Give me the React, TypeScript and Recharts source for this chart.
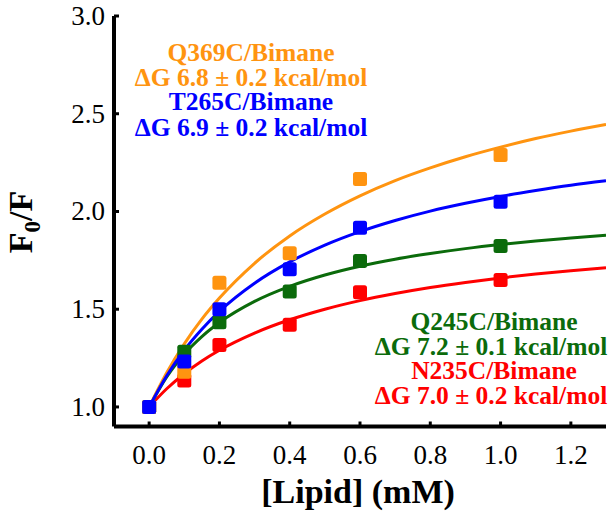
import React from "react";
import { ComposedChart, Line, Scatter, XAxis, YAxis } from "recharts";

const xTicks = [0, 0.2, 0.4, 0.6, 0.8, 1.0, 1.2];
const yTicks = [1.0, 1.5, 2.0, 2.5, 3.0];

const conc = [0, 0.1, 0.2, 0.4, 0.6, 1.0];
const q369Pts = [1.0, 1.18, 1.636, 1.786, 2.166, 2.289];
const t265Pts = [1.0, 1.232, 1.5, 1.704, 1.917, 2.05];
const q245Pts = [1.0, 1.283, 1.433, 1.59, 1.747, 1.824];
const n235Pts = [1.0, 1.135, 1.317, 1.42, 1.587, 1.65];

const fitX = [0, 0.05, 0.1, 0.15, 0.2, 0.3, 0.4, 0.5, 0.6, 0.7, 0.8, 0.9, 1.0, 1.1, 1.2, 1.3];
const q369Fit = [1.0, 1.175, 1.323, 1.449, 1.557, 1.735, 1.875, 1.987, 2.08, 2.158, 2.223, 2.28, 2.329, 2.373, 2.411, 2.445];
const t265Fit = [1.0, 1.16, 1.291, 1.398, 1.489, 1.633, 1.742, 1.828, 1.897, 1.954, 2.002, 2.042, 2.077, 2.107, 2.134, 2.157];
const q245Fit = [1.0, 1.154, 1.27, 1.36, 1.432, 1.54, 1.617, 1.675, 1.72, 1.756, 1.785, 1.81, 1.831, 1.849, 1.864, 1.878];
const n235Fit = [1.0, 1.093, 1.17, 1.235, 1.29, 1.378, 1.446, 1.5, 1.544, 1.58, 1.611, 1.637, 1.66, 1.68, 1.697, 1.712];

const ORANGE = "#FF9410";
const BLUE = "#0000FF";
const GREEN = "#0B6B0B";
const RED = "#FF0000";

const SERIF = "'Liberation Serif', 'Times New Roman', serif";

const toPts = (xs: number[], ys: number[]) => xs.map((x, i) => ({ x, y: ys[i] }));

const Square = (color: string) => (props: any) => {
  const { cx, cy } = props;
  if (cx == null || cy == null) return null;
  return <rect x={cx - 7} y={cy - 7} width={14} height={14} rx={2.5} fill={color} />;
};

const YTick = (props: any) => {
  const { x, y, payload } = props;
  return (
    <g>
      <line x1={x} x2={x + 5} y1={y} y2={y} stroke="#000" strokeWidth={3} />
      <text x={x - 9} y={y + 9} textAnchor="end" fontFamily={SERIF} fontSize={27} fill="#000">
        {Number(payload.value).toFixed(1)}
      </text>
    </g>
  );
};

const XTick = (props: any) => {
  const { x, y, payload } = props;
  return (
    <g>
      <line x1={x} x2={x} y1={y} y2={y - 5} stroke="#000" strokeWidth={3} />
      <text x={x} y={y + 37} textAnchor="middle" fontFamily={SERIF} fontSize={27} fill="#000">
        {Number(payload.value).toFixed(1)}
      </text>
    </g>
  );
};

const YLabel = (props: any) => {
  const cy = 222;
  const cx = 32;
  return (
    <text
      x={cx}
      y={cy}
      transform={`rotate(-90 ${cx} ${cy})`}
      textAnchor="middle"
      fontFamily={SERIF}
      fontWeight="bold"
      fontSize={34}
      fill="#000"
    >
      F<tspan fontSize={23} dy={8}>0</tspan><tspan dy={-8}>/F</tspan>
    </text>
  );
};

const XLabel = (props: any) => {
  const { viewBox } = props;
  const cx = viewBox.x + viewBox.width / 2 - 2;
  return (
    <text x={cx} y={503} textAnchor="middle" fontFamily={SERIF} fontWeight="bold" fontSize={34} fill="#000">
      [Lipid] (mM)
    </text>
  );
};

const annStyle = { fontFamily: SERIF, fontWeight: "bold" as const, fontSize: 25.5 };

export default function App() {
  return (
    <div style={{ position: "absolute", left: 0, top: 0, width: 616, height: 521, background: "#fff" }}>
      <ComposedChart width={616} height={521} margin={{ top: 16, right: 10, left: 0, bottom: 0 }}>
        <XAxis
          type="number"
          dataKey="x"
          domain={[-0.1, 1.3]}
          ticks={xTicks}
          allowDataOverflow
          height={94.5}
          tickSize={0}
          tickMargin={0}
          tick={<XTick />}
          axisLine={{ stroke: "#000", strokeWidth: 4 }}
          label={<XLabel />}
        />
        <YAxis
          type="number"
          dataKey="y"
          domain={[0.9, 3.0]}
          ticks={yTicks}
          allowDataOverflow
          width={114}
          tickSize={0}
          tickMargin={0}
          tick={<YTick />}
          axisLine={{ stroke: "#000", strokeWidth: 4 }}
          label={<YLabel />}
        />
        <Line data={toPts(fitX, n235Fit)} dataKey="y" type="monotone" stroke={RED} strokeWidth={3} dot={false} isAnimationActive={false} />
        <Scatter data={toPts(conc, n235Pts)} dataKey="y" fill={RED} shape={Square(RED)} isAnimationActive={false} />
        <Line data={toPts(fitX, q245Fit)} dataKey="y" type="monotone" stroke={GREEN} strokeWidth={3} dot={false} isAnimationActive={false} />
        <Scatter data={toPts(conc, q245Pts)} dataKey="y" fill={GREEN} shape={Square(GREEN)} isAnimationActive={false} />
        <Line data={toPts(fitX, q369Fit)} dataKey="y" type="monotone" stroke={ORANGE} strokeWidth={3} dot={false} isAnimationActive={false} />
        <Scatter data={toPts(conc, q369Pts)} dataKey="y" fill={ORANGE} shape={Square(ORANGE)} isAnimationActive={false} />
        <Line data={toPts(fitX, t265Fit)} dataKey="y" type="monotone" stroke={BLUE} strokeWidth={3} dot={false} isAnimationActive={false} />
        <Scatter data={toPts(conc, t265Pts)} dataKey="y" fill={BLUE} shape={Square(BLUE)} isAnimationActive={false} />
        <text x={251} y={61} textAnchor="middle" fill={ORANGE} {...annStyle}>Q369C/Bimane</text>
        <text x={251} y={86} textAnchor="middle" fill={ORANGE} {...annStyle}>ΔG 6.8 ± 0.2 kcal/mol</text>
        <text x={251} y={110} textAnchor="middle" fill={BLUE} {...annStyle}>T265C/Bimane</text>
        <text x={251} y={136} textAnchor="middle" fill={BLUE} {...annStyle}>ΔG 6.9 ± 0.2 kcal/mol</text>
        <text x={494} y={330} textAnchor="middle" fill={GREEN} {...annStyle}>Q245C/Bimane</text>
        <text x={491} y={355} textAnchor="middle" fill={GREEN} {...annStyle}>ΔG 7.2 ± 0.1 kcal/mol</text>
        <text x={494} y={379} textAnchor="middle" fill={RED} {...annStyle}>N235C/Bimane</text>
        <text x={491} y={404} textAnchor="middle" fill={RED} {...annStyle}>ΔG 7.0 ± 0.2 kcal/mol</text>
      </ComposedChart>
    </div>
  );
}
